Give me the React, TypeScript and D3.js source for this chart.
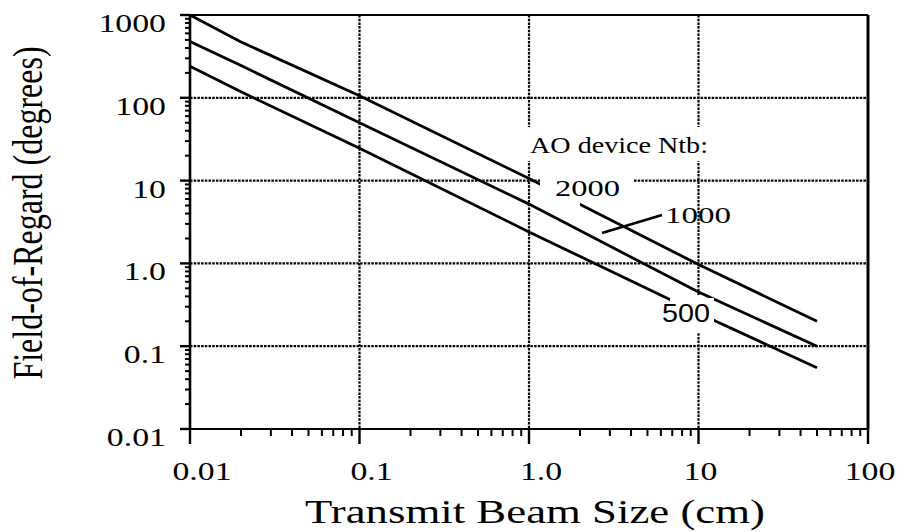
import * as d3 from "d3";

// beam size (cm) and field-of-regard (deg)
const beamSizes = [0.01, 0.02, 0.1, 1, 10, 50];
const for2000 = [1000, 472, 106, 10.6, 0.97, 0.2];
const for1000 = [480, 245, 50, 5.2, 0.45, 0.1];
const for500 = [240, 118, 24.6, 2.4, 0.25, 0.055];

const xTickValues = [0.01, 0.1, 1, 10, 100];
const xTickLabels = ["0.01", "0.1", "1.0", "10", "100"];
const yTickValues = [0.01, 0.1, 1, 10, 100, 1000];
const yTickLabels = ["0.01", "0.1", "1.0", "10", "100", "1000"];

const W = 906;
const H = 532;
const FONT = "'Liberation Serif', 'Times New Roman', serif";
const STRETCH = 1.3;

export default function App() {
  const x = d3.scaleLog().domain([0.01, 100]).range([190, 868]);
  const y = d3.scaleLog().domain([0.01, 1000]).range([429, 15]);

  const line = d3
    .line<[number, number]>()
    .x((d) => x(d[0]))
    .y((d) => y(d[1]));

  const series = [for2000, for1000, for500].map((vals) =>
    beamSizes.map((b, i) => [b, vals[i]] as [number, number])
  );

  // minor ticks 2..9 in each decade
  const minorX: number[] = [];
  for (let e = -2; e < 2; e++) for (let m = 2; m < 10; m++) minorX.push(m * Math.pow(10, e));
  const minorY: number[] = [];
  for (let e = -2; e < 3; e++) for (let m = 2; m < 10; m++) minorY.push(m * Math.pow(10, e));

  const [x0, x1] = x.range();
  const [y0, y1] = y.range();

  const grid = { stroke: "#000", strokeWidth: 2.2, strokeDasharray: "2.5 1.2" };

  return (
    <svg
      width={W}
      height={H}
      style={{ position: "absolute", left: 0, top: 0, background: "#fff" }}
      fontFamily={FONT}
    >
      <rect width={W} height={H} fill="#fff" />

      {/* gridlines */}
      {xTickValues.slice(1, -1).map((v) => (
        <line key={"gx" + v} x1={x(v)} x2={x(v)} y1={y1} y2={y0} {...grid} />
      ))}
      {yTickValues.slice(1, -1).map((v) => (
        <line key={"gy" + v} x1={x0} x2={x1} y1={y(v)} y2={y(v)} {...grid} />
      ))}

      {/* knock the grid out behind the labels */}
      <rect x={526} y={127} width={186} height={34} fill="#fff" />
      <rect x={541} y={171} width={92} height={22} fill="#fff" />
      <rect x={690} y={295} width={16} height={38} fill="#fff" />

      {/* curves */}
      {series.map((s, i) => (
        <path key={i} d={line(s) ?? ""} fill="none" stroke="#000" strokeWidth={2.8} />
      ))}

      {/* breaks in the curves at the labels */}
      <rect x={540} y={172} width={40} height={34} fill="#fff" />
      <rect x={670} y={298} width={44} height={25} fill="#fff" />

      {/* frame */}
      <line x1={x0} x2={x1} y1={y1} y2={y1} stroke="#000" strokeWidth={2} />
      <line x1={x1} x2={x1} y1={y1} y2={y0} stroke="#000" strokeWidth={3} />
      <line x1={x0} x2={x1} y1={y0} y2={y0} stroke="#000" strokeWidth={2.2} />
      <line x1={x0} x2={x0} y1={y1} y2={y0} stroke="#000" strokeWidth={2.6} />

      {/* x ticks */}
      {minorX.map((v) => (
        <line key={"mx" + v} x1={x(v)} x2={x(v)} y1={y0} y2={y0 + 7} stroke="#000" strokeWidth={2} />
      ))}
      {xTickValues.map((v) => (
        <line key={"tx" + v} x1={x(v)} x2={x(v)} y1={y0} y2={y0 + 15} stroke="#000" strokeWidth={2.4} />
      ))}
      {/* y ticks */}
      {minorY.map((v) => (
        <line key={"my" + v} x1={x0 - 5} x2={x0} y1={y(v)} y2={y(v)} stroke="#000" strokeWidth={2} />
      ))}
      {yTickValues.map((v) => (
        <line key={"ty" + v} x1={x0 - 10} x2={x0} y1={y(v)} y2={y(v)} stroke="#000" strokeWidth={2.4} />
      ))}

      {/* tick labels */}
      {xTickValues.map((v, i) => (
        <text
          key={"lx" + v}
          transform={`translate(${x(v) + (i < 3 ? 12 : 2)},480) scale(${STRETCH},1)`}
          textAnchor="middle"
          fontSize={26}
        >
          {xTickLabels[i]}
        </text>
      ))}
      {yTickValues.map((v, i) => (
        <text
          key={"ly" + v}
          transform={`translate(166,${y(v) + 17}) scale(${STRETCH},1)`}
          textAnchor="end"
          fontSize={26}
        >
          {yTickLabels[i]}
        </text>
      ))}

      {/* axis titles */}
      <text x={305} y={523} fontSize={33} textLength={460} lengthAdjust="spacingAndGlyphs">
        Transmit Beam Size (cm)
      </text>
      <text
        transform="translate(42,213) scale(1.3,1) rotate(-90)"
        textAnchor="middle"
        fontSize={32}
      >
        Field-of-Regard (degrees)
      </text>

      {/* annotations */}
      <text x={530} y={153} fontSize={23} textLength={178} lengthAdjust="spacingAndGlyphs">
        AO device Ntb:
      </text>
      <text x={555} y={196} fontSize={23} textLength={65} lengthAdjust="spacingAndGlyphs">
        2000
      </text>
      <text x={665} y={223} fontSize={23} textLength={66} lengthAdjust="spacingAndGlyphs">
        1000
      </text>
      <line x1={602} y1={233} x2={662} y2={215} stroke="#000" strokeWidth={2.8} />
      <text
        x={662}
        y={322}
        fontSize={25}
        fontFamily="'Liberation Sans', Arial, sans-serif"
        textLength={48}
        lengthAdjust="spacingAndGlyphs"
      >
        500
      </text>
    </svg>
  );
}
